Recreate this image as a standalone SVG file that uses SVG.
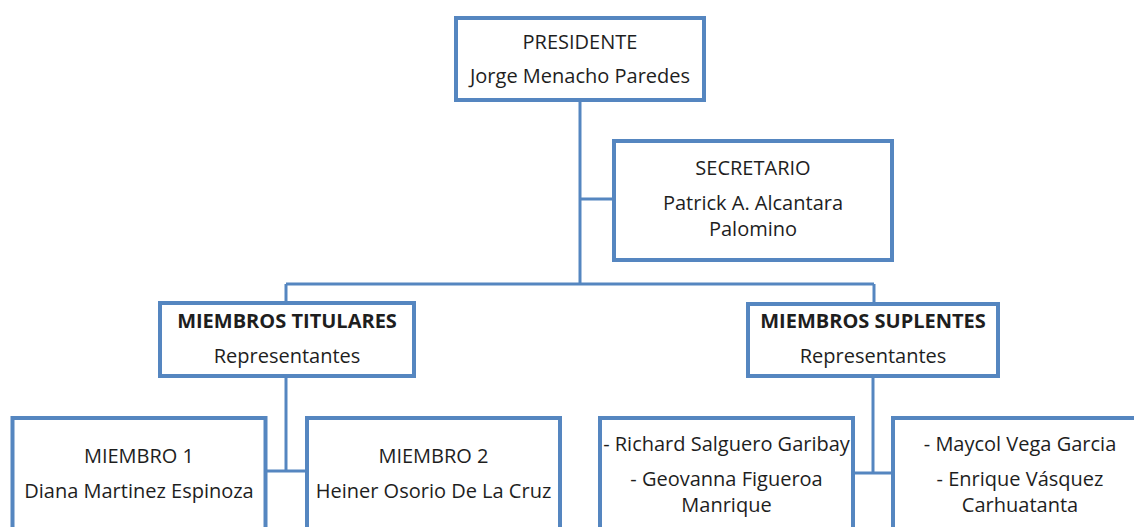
<svg xmlns="http://www.w3.org/2000/svg" width="1134" height="527" viewBox="0 0 1134 527">
<style>
.box{fill:#fff;stroke:#5586C0;stroke-width:4}
.con{fill:none;stroke:#5586C0;stroke-width:3}
text{font-family:"Open Sans","Noto Sans","Liberation Sans",sans-serif;font-size:20px;fill:#1e1e1e;text-anchor:middle}
.b{font-weight:bold}
</style>
<rect width="1134" height="527" fill="#fff"/>
<g id="connectors">
<path class="con" d="M580,100 V284"/>
<path class="con" d="M580,199 H614"/>
<path class="con" d="M286,284 H874"/>
<path class="con" d="M286,284 V303"/>
<path class="con" d="M874,284 V304"/>
<path class="con" d="M286,376 V471"/>
<path class="con" d="M265,471 H307"/>
<path class="con" d="M873,376 V473"/>
<path class="con" d="M853,473 H893"/>
</g>
<g id="presidente">
<rect class="box" x="456" y="18" width="248" height="82"/>
<text x="580" y="49">PRESIDENTE</text>
<text x="580" y="83">Jorge Menacho Paredes</text>
</g>
<g id="secretario">
<rect class="box" x="614" y="141" width="278" height="119"/>
<text x="753" y="175">SECRETARIO</text>
<text x="753" y="210">Patrick A. Alcantara</text>
<text x="753" y="236">Palomino</text>
</g>
<g id="titulares">
<rect class="box" x="160" y="303" width="254" height="73"/>
<text class="b" x="287" y="328">MIEMBROS TITULARES</text>
<text x="287" y="363">Representantes</text>
</g>
<g id="suplentes">
<rect class="box" x="748" y="304" width="250" height="72"/>
<text class="b" x="873" y="328">MIEMBROS SUPLENTES</text>
<text x="873" y="363">Representantes</text>
</g>
<g id="miembro1">
<rect class="box" x="12.5" y="418" width="253" height="130"/>
<text x="139" y="463">MIEMBRO 1</text>
<text x="139" y="498">Diana Martinez Espinoza</text>
</g>
<g id="miembro2">
<rect class="box" x="307" y="418" width="253" height="130"/>
<text x="433.5" y="463">MIEMBRO 2</text>
<text x="433.5" y="498">Heiner Osorio De La Cruz</text>
</g>
<g id="suplentes1">
<rect class="box" x="600" y="418" width="253" height="130"/>
<text x="726.5" y="451">- Richard Salguero Garibay</text>
<text x="726.5" y="486">- Geovanna Figueroa</text>
<text x="726.5" y="512">Manrique</text>
</g>
<g id="suplentes2">
<rect class="box" x="893" y="418" width="254" height="130"/>
<text x="1020" y="451">- Maycol Vega Garcia</text>
<text x="1020" y="486">- Enrique Vásquez</text>
<text x="1020" y="512">Carhuatanta</text>
</g>
</svg>
